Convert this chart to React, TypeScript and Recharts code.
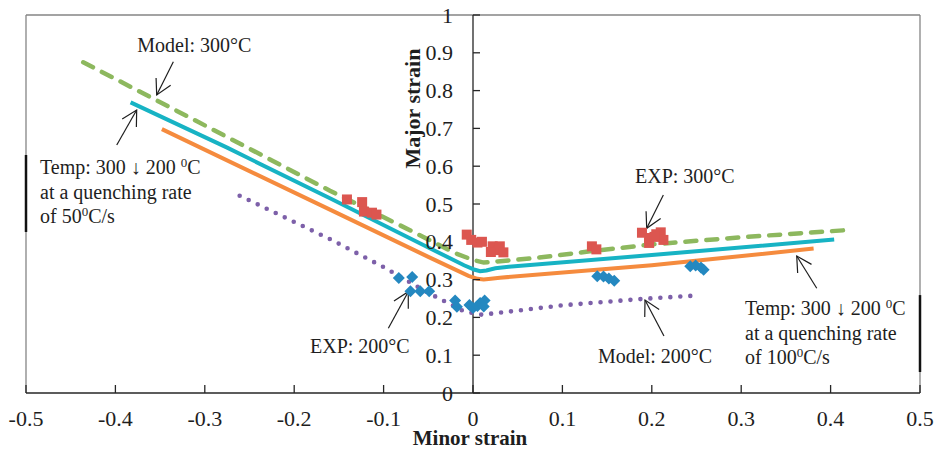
import React from 'react';
import { ComposedChart, Line, Scatter, XAxis, YAxis, ReferenceLine, ReferenceDot } from 'recharts';

// ---------- data ----------
const xTicks = [-0.5, -0.4, -0.3, -0.2, -0.1, 0, 0.1, 0.2, 0.3, 0.4, 0.5];
const yTicks = [0, 0.1, 0.2, 0.3, 0.4, 0.5, 0.6, 0.7, 0.8, 0.9, 1];

const model300 = [
  { x: -0.436, y: 0.875 }, { x: -0.3, y: 0.708 }, { x: -0.16, y: 0.535 }, { x: -0.07, y: 0.43 },
  { x: -0.02, y: 0.37 }, { x: 0, y: 0.352 }, { x: 0.012, y: 0.345 }, { x: 0.07, y: 0.357 },
  { x: 0.135, y: 0.376 }, { x: 0.2, y: 0.393 }, { x: 0.3, y: 0.412 }, { x: 0.425, y: 0.432 },
];
const temp50 = [
  { x: -0.383, y: 0.769 }, { x: -0.275, y: 0.649 }, { x: -0.16, y: 0.515 }, { x: -0.05, y: 0.385 },
  { x: -0.01, y: 0.338 }, { x: 0.002, y: 0.326 }, { x: 0.008, y: 0.322 }, { x: 0.015, y: 0.324 },
  { x: 0.025, y: 0.33 }, { x: 0.04, y: 0.334 }, { x: 0.2, y: 0.365 }, { x: 0.404, y: 0.406 },
];
const temp100 = [
  { x: -0.348, y: 0.698 }, { x: -0.16, y: 0.485 }, { x: -0.05, y: 0.36 }, { x: -0.005, y: 0.31 },
  { x: 0.005, y: 0.302 }, { x: 0.012, y: 0.3 }, { x: 0.02, y: 0.302 }, { x: 0.03, y: 0.305 },
  { x: 0.2, y: 0.338 }, { x: 0.381, y: 0.382 },
];
const model200 = [
  { x: -0.261, y: 0.522 }, { x: -0.159, y: 0.406 }, { x: -0.1, y: 0.333 }, { x: -0.05, y: 0.265 },
  { x: -0.01, y: 0.216 }, { x: 0.01, y: 0.207 }, { x: 0.1, y: 0.232 }, { x: 0.19, y: 0.249 },
  { x: 0.251, y: 0.258 },
];
const exp300 = [
  { x: -0.141, y: 0.512 }, { x: -0.124, y: 0.505 }, { x: -0.122, y: 0.48 }, { x: -0.113, y: 0.477 },
  { x: -0.108, y: 0.472 },
  { x: -0.007, y: 0.419 }, { x: -0.002, y: 0.405 }, { x: 0.005, y: 0.398 }, { x: 0.01, y: 0.4 },
  { x: 0.022, y: 0.388 }, { x: 0.028, y: 0.378 }, { x: 0.03, y: 0.388 }, { x: 0.034, y: 0.372 },
  { x: 0.02, y: 0.373 },
  { x: 0.133, y: 0.388 }, { x: 0.138, y: 0.38 },
  { x: 0.189, y: 0.424 }, { x: 0.197, y: 0.41 }, { x: 0.197, y: 0.397 }, { x: 0.205, y: 0.42 },
  { x: 0.21, y: 0.425 }, { x: 0.213, y: 0.405 }, { x: 0.203, y: 0.413 },
];
const exp200 = [
  { x: -0.083, y: 0.304 }, { x: -0.068, y: 0.307 }, { x: -0.07, y: 0.269 }, { x: -0.059, y: 0.269 },
  { x: -0.049, y: 0.269 }, { x: -0.02, y: 0.245 }, { x: -0.018, y: 0.228 }, { x: -0.004, y: 0.233 },
  { x: 0, y: 0.225 }, { x: 0.005, y: 0.23 }, { x: 0.008, y: 0.238 }, { x: 0.013, y: 0.245 },
  { x: 0.012, y: 0.229 },
  { x: 0.139, y: 0.309 }, { x: 0.146, y: 0.308 }, { x: 0.152, y: 0.303 }, { x: 0.158, y: 0.297 },
  { x: 0.243, y: 0.335 }, { x: 0.249, y: 0.337 }, { x: 0.255, y: 0.332 }, { x: 0.258, y: 0.326 },
];

// annotation texts (anchor: left x, first baseline y, data coordinates)
type Seg = { t: string; sup?: boolean };
const notes: { x: number; y: number; lines: Seg[][] }[] = [
  { x: -0.3755, y: 0.903, lines: [[{ t: 'Model: 300°C' }]] },
  {
    x: -0.4843, y: 0.5786, lines: [
      [{ t: 'Temp: 300 ↓ 200 ' }, { t: '0', sup: true }, { t: 'C' }],
      [{ t: 'at a quenching rate' }],
      [{ t: 'of 50' }, { t: '0', sup: true }, { t: 'C/s' }],
    ],
  },
  { x: -0.1823, y: 0.1058, lines: [[{ t: 'EXP: 200°C' }]] },
  { x: 0.1812, y: 0.5556, lines: [[{ t: 'EXP: 300°C' }]] },
  { x: 0.1398, y: 0.0802, lines: [[{ t: 'Model: 200°C' }]] },
  {
    x: 0.3043, y: 0.2063, lines: [
      [{ t: 'Temp: 300 ↓ 200 ' }, { t: '0', sup: true }, { t: 'C' }],
      [{ t: 'at a quenching rate' }],
      [{ t: 'of 100' }, { t: '0', sup: true }, { t: 'C/s' }],
    ],
  },
];
// arrows: from (x1,y1) to tip (x2,y2), data coordinates
const arrows = [
  { x1: -0.3352, y1: 0.8765, x2: -0.3538, y2: 0.7884 },
  { x1: -0.3985, y1: 0.6561, x2: -0.3762, y2: 0.7487 },
  { x1: -0.0947, y1: 0.1712, x2: -0.0724, y2: 0.268 },
  { x1: 0.2129, y1: 0.5238, x2: 0.1943, y2: 0.4357 },
  { x1: 0.2136, y1: 0.1508, x2: 0.1924, y2: 0.246 },
  { x1: 0.3845, y1: 0.277, x2: 0.3621, y2: 0.3624 },
];

// ---------- styles ----------
const FONT = "'Liberation Serif', 'Times New Roman', serif";
const TEXT = '#1e1e1e';
const AXIS = '#262626';
const BORDER = '#858585';
const GREEN = '#8DB85E';
const CYAN = '#17B3C4';
const ORANGE = '#F58B3E';
const PURPLE = '#7D60A9';
const RED = '#DC5650';
const BLUE = '#2488C0';

const XTick = (props: any) => {
  const { x, y, payload } = props;
  return (
    <g>
      <line x1={x} x2={x} y1={y} y2={y - 8} stroke={AXIS} strokeWidth={1.3} />
      <text x={x} y={y + 33} textAnchor="middle" fontFamily={FONT} fontSize={22} fill={TEXT}>
        {String(payload.value)}
      </text>
    </g>
  );
};

const YTickShape = (v: number) => (p: any) => (
  <g>
    <line x1={p.cx} x2={p.cx + 7} y1={p.cy} y2={p.cy} stroke={AXIS} strokeWidth={1.3} />
    <text x={p.cx - 20} y={p.cy + 7.5} textAnchor="end" fontFamily={FONT} fontSize={22} fill={TEXT}>
      {String(v)}
    </text>
  </g>
);

const NoteShape = (lines: Seg[][]) => (p: any) => (
  <text x={p.cx} y={p.cy} fontFamily={FONT} fontSize={20} fill={TEXT}>
    {lines.map((line, i) => {
      const parts: React.ReactNode[] = [];
      let shifted = false;
      line.forEach((s, j) => {
        const first = j === 0;
        let dy: number | undefined = first && i > 0 ? 24.5 : undefined;
        if (s.sup) {
          dy = (dy || 0) - 7;
          shifted = true;
        } else if (shifted) {
          dy = (dy || 0) + 7;
          shifted = false;
        }
        parts.push(
          <tspan key={j} x={first ? p.cx : undefined} dy={dy} fontSize={s.sup ? 13 : undefined}>
            {s.t}
          </tspan>
        );
      });
      return <React.Fragment key={i}>{parts}</React.Fragment>;
    })}
  </text>
);

const ArrowShape = (p: any) => {
  const { x1, y1, x2, y2 } = p;
  const ang = Math.atan2(y1 - y2, x1 - x2);
  const L = 17;
  const a = 0.5;
  const h1 = `${x2 + L * Math.cos(ang + a)},${y2 + L * Math.sin(ang + a)}`;
  const h2 = `${x2 + L * Math.cos(ang - a)},${y2 + L * Math.sin(ang - a)}`;
  return (
    <g>
      <line x1={x1} y1={y1} x2={x2} y2={y2} stroke={TEXT} strokeWidth={1.2} />
      <polyline points={`${h1} ${x2},${y2} ${h2}`} fill="none" stroke={TEXT} strokeWidth={1.2} />
    </g>
  );
};

const SquareShape = (p: any) => <rect x={p.cx - 5} y={p.cy - 5} width={10} height={10} fill={RED} />;
const DiamondShape = (p: any) => (
  <polygon
    points={`${p.cx},${p.cy - 6} ${p.cx + 6},${p.cy} ${p.cx},${p.cy + 6} ${p.cx - 6},${p.cy}`}
    fill={BLUE}
  />
);

const MajorLabel = (p: any) => (
  <text
    x={p.cx}
    y={p.cy}
    transform={`rotate(-90 ${p.cx} ${p.cy})`}
    textAnchor="middle"
    fontFamily={FONT}
    fontWeight="bold"
    fontSize={22}
    fill={TEXT}
  >
    Major strain
  </text>
);

const MinorLabel = (props: any) => {
  const vb = props.viewBox || {};
  return (
    <text
      x={vb.x + vb.width / 2 - 3}
      y={vb.y + 52}
      textAnchor="middle"
      fontFamily={FONT}
      fontWeight="bold"
      fontSize={21}
      fill={TEXT}
    >
      Minor strain
    </text>
  );
};

export default function App() {
  return (
    <div style={{ position: 'absolute', left: 0, top: 0, width: 937, height: 449, background: '#fff' }}>
      <ComposedChart width={937} height={449} margin={{ top: 15, right: 17, left: 26, bottom: 0 }}>
        <XAxis
          type="number"
          dataKey="x"
          domain={[-0.5, 0.5]}
          ticks={xTicks}
          interval={0}
          allowDataOverflow
          height={56}
          tickSize={0}
          tickMargin={0}
          tickLine={false}
          tick={XTick}
          axisLine={{ stroke: AXIS, strokeWidth: 1.6 }}
          label={{ content: MinorLabel }}
        />
        <YAxis type="number" dataKey="y" domain={[0, 1]} ticks={yTicks} hide allowDataOverflow />

        {/* frame */}
        <ReferenceLine y={1} stroke={BORDER} strokeWidth={1.3} ifOverflow="visible" />
        <ReferenceLine x={-0.5} stroke={BORDER} strokeWidth={1.3} ifOverflow="visible" />
        <ReferenceLine x={0.5} stroke={BORDER} strokeWidth={1.3} ifOverflow="visible" />
        <ReferenceLine segment={[{ x: -0.5, y: 0.6296 }, { x: -0.5, y: 0.426 }]} stroke="#111" strokeWidth={2.5} ifOverflow="visible" />
        <ReferenceLine segment={[{ x: 0.5, y: 0.259 }, { x: 0.5, y: 0.0556 }]} stroke="#111" strokeWidth={2.5} ifOverflow="visible" />

        {/* y axis at x = 0 */}
        <ReferenceLine x={0} stroke={AXIS} strokeWidth={1.3} ifOverflow="visible" />
        {yTicks.map((v) => (
          <ReferenceDot key={`yt${v}`} x={0} y={v} r={0} ifOverflow="visible" shape={YTickShape(v)} />
        ))}
        <ReferenceDot x={-0.0593} y={0.7526} r={0} ifOverflow="visible" shape={MajorLabel} />

        <Scatter data={exp300} dataKey="y" shape={SquareShape} isAnimationActive={false} />
        <Scatter data={exp200} dataKey="y" shape={DiamondShape} isAnimationActive={false} />

        <Line data={temp100} dataKey="y" type="linear" stroke={ORANGE} strokeWidth={4} dot={false} activeDot={false} isAnimationActive={false} />
        <Line data={temp50} dataKey="y" type="linear" stroke={CYAN} strokeWidth={4} dot={false} activeDot={false} isAnimationActive={false} />
        <Line data={model200} dataKey="y" type="linear" stroke={PURPLE} strokeWidth={4.6} strokeDasharray="0 10" strokeLinecap="round" dot={false} activeDot={false} isAnimationActive={false} />
        <Line data={model300} dataKey="y" type="linear" stroke={GREEN} strokeWidth={4.5} strokeDasharray="11 10" strokeLinecap="round" dot={false} activeDot={false} isAnimationActive={false} />

        {notes.map((n, i) => (
          <ReferenceDot key={`n${i}`} x={n.x} y={n.y} r={0} ifOverflow="visible" shape={NoteShape(n.lines)} />
        ))}
        {arrows.map((a, i) => (
          <ReferenceLine
            key={`a${i}`}
            segment={[{ x: a.x1, y: a.y1 }, { x: a.x2, y: a.y2 }]}
            ifOverflow="visible"
            shape={ArrowShape}
          />
        ))}
      </ComposedChart>
    </div>
  );
}
